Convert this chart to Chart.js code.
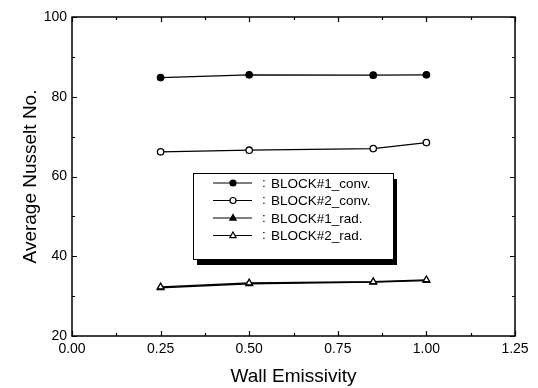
<!DOCTYPE html>
<html>
<head>
<meta charset="utf-8">
<script src="https://cdn.jsdelivr.net/npm/chart.js@4.4.0/dist/chart.umd.min.js"></script>
<style>
  body { margin: 0; background: #fff; }
  canvas { display: block; }
</style>
</head>
<body>
<canvas id="myChart" width="538" height="388"></canvas>
<script>
// wall emissivity values on the x axis
var emissivity = [0.25, 0.5, 0.85, 1.0];
var block1Conv = [84.8, 85.5, 85.4, 85.5];
var block2Conv = [66.2, 66.6, 67.0, 68.5];
var block1Rad = [32.1, 33.1, 33.5, 33.9];
var block2Rad = [32.3, 33.3, 33.6, 34.1];
var seriesNames = ['BLOCK#1_conv.', 'BLOCK#2_conv.', 'BLOCK#1_rad.', 'BLOCK#2_rad.'];
var xTicks = [0, 0.25, 0.5, 0.75, 1.0, 1.25];
var yTicks = [20, 40, 60, 80, 100];

var FONT = '"Liberation Sans", Arial, sans-serif';

function toPoints(ys) {
    return emissivity.map(function (x, i) { return { x: x, y: ys[i] }; });
}

function makeSet(label, ys, style, fill, order) {
    return {
        label: label,
        data: toPoints(ys),
        order: order,
        borderColor: '#000',
        borderWidth: 1.3,
        pointStyle: style,
        pointRadius: style === 'triangle' ? 3.8 : 3.2,
        pointBorderWidth: 1.3,
        pointBorderColor: '#000',
        pointBackgroundColor: fill,
        fill: false,
        tension: 0
    };
}

function drawMarker(ctx, style, fill, x, y, r) {
    ctx.beginPath();
    if (style === 'triangle') {
        ctx.moveTo(x, y - r);
        ctx.lineTo(x + r * 0.9, y + r * 0.6);
        ctx.lineTo(x - r * 0.9, y + r * 0.6);
        ctx.closePath();
    } else {
        ctx.arc(x, y, r, 0, Math.PI * 2);
    }
    ctx.fillStyle = fill;
    ctx.fill();
    ctx.lineWidth = 1.2;
    ctx.strokeStyle = '#000';
    ctx.stroke();
}

var framePlugin = {
    id: 'frame',
    beforeDraw: function (chart) {
        var ctx = chart.ctx;
        ctx.save();
        ctx.fillStyle = '#fff';
        ctx.fillRect(0, 0, chart.width, chart.height);
        ctx.restore();
    },
    afterDatasetsDraw: function (chart) {
        var ctx = chart.ctx, a = chart.chartArea;
        var xs = chart.scales.x, ys = chart.scales.y;
        ctx.save();
        ctx.strokeStyle = '#000';
        ctx.lineWidth = 1.5;
        ctx.strokeRect(a.left, a.top, a.right - a.left, a.bottom - a.top);
        ctx.lineWidth = 1.2;
        // x ticks, major and minor, bottom and top
        for (var i = 0; i < xTicks.length; i++) {
            var vals = [[xTicks[i], 5]];
            if (i < xTicks.length - 1) vals.push([(xTicks[i] + xTicks[i + 1]) / 2, 3]);
            vals.forEach(function (t) {
                var px = Math.round(xs.getPixelForValue(t[0])) + 0.5;
                ctx.beginPath();
                ctx.moveTo(px, a.bottom); ctx.lineTo(px, a.bottom - t[1]);
                ctx.moveTo(px, a.top); ctx.lineTo(px, a.top + t[1]);
                ctx.stroke();
            });
        }
        for (var j = 0; j < yTicks.length; j++) {
            var yv = [[yTicks[j], 5]];
            if (j < yTicks.length - 1) yv.push([(yTicks[j] + yTicks[j + 1]) / 2, 3]);
            yv.forEach(function (t) {
                var py = Math.round(ys.getPixelForValue(t[0])) + 0.5;
                ctx.beginPath();
                ctx.moveTo(a.left, py); ctx.lineTo(a.left + t[1], py);
                ctx.moveTo(a.right, py); ctx.lineTo(a.right - t[1], py);
                ctx.stroke();
            });
        }
        ctx.restore();
    },
    afterDraw: function (chart) {
        // legend box with a drop shadow, inside the plot
        var ctx = chart.ctx;
        var bx = 193, by = 173, bw = 200, bh = 86;
        ctx.save();
        ctx.fillStyle = '#000';
        ctx.fillRect(bx + 4, by + 6, bw, bh);
        ctx.fillStyle = '#fff';
        ctx.fillRect(bx, by, bw, bh);
        ctx.strokeStyle = '#000';
        ctx.lineWidth = 1;
        ctx.strokeRect(bx + 0.5, by + 0.5, bw, bh);
        ctx.font = '13.5px ' + FONT;
        ctx.textBaseline = 'middle';
        seriesNames.forEach(function (name, k) {
            var ds = chart.data.datasets[k];
            var y = by + 10 + k * 17.5;
            ctx.beginPath();
            ctx.moveTo(bx + 20, y); ctx.lineTo(bx + 59, y);
            ctx.lineWidth = 1.2;
            ctx.strokeStyle = '#000';
            ctx.stroke();
            drawMarker(ctx, ds.pointStyle, ds.pointBackgroundColor, bx + 40, y, ds.pointStyle === 'triangle' ? 3.5 : 3);
            ctx.fillStyle = '#000';
            ctx.fillText(':', bx + 69, y);
            ctx.fillText(name, bx + 78, y + 1);
        });
        ctx.restore();
    }
};

var ctx = document.getElementById('myChart').getContext('2d');
var myChart = new Chart(ctx, {
    type: 'line',
    data: {
        datasets: [
            makeSet(seriesNames[0], block1Conv, 'circle', '#000', 1),
            makeSet(seriesNames[1], block2Conv, 'circle', '#fff', 1),
            makeSet(seriesNames[2], block1Rad, 'triangle', '#000', 2),
            makeSet(seriesNames[3], block2Rad, 'triangle', '#fff', 0)
        ]
    },
    options: {
        responsive: false,
        animation: false,
        layout: { padding: { top: 17, right: 23, left: 0, bottom: 0 } },
        plugins: { legend: { display: false }, tooltip: { enabled: false } },
        scales: {
            x: {
                type: 'linear',
                min: 0, max: 1.25,
                afterBuildTicks: function (s) { s.ticks = xTicks.map(function (v) { return { value: v }; }); },
                afterFit: function (s) { s.height = 52; },
                grid: { display: false, drawTicks: false },
                border: { display: false },
                ticks: {
                    color: '#000',
                    padding: 5,
                    font: { family: FONT, size: 14 },
                    callback: function (v) { return Number(v).toFixed(2); }
                },
                title: {
                    display: true,
                    text: 'Wall Emissivity',
                    color: '#000',
                    padding: { top: 0, bottom: 0 },
                    font: { family: FONT, size: 19 }
                }
            },
            y: {
                min: 20, max: 100,
                afterBuildTicks: function (s) { s.ticks = yTicks.map(function (v) { return { value: v }; }); },
                afterFit: function (s) { s.width = 72; },
                grid: { display: false, drawTicks: false },
                border: { display: false },
                ticks: {
                    color: '#000',
                    padding: 5,
                    font: { family: FONT, size: 14 }
                },
                title: {
                    display: true,
                    text: 'Average Nusselt No.',
                    color: '#000',
                    padding: { top: 19, bottom: 0 },
                    font: { family: FONT, size: 19 }
                }
            }
        }
    },
    plugins: [framePlugin]
});
</script>
</body>
</html>
